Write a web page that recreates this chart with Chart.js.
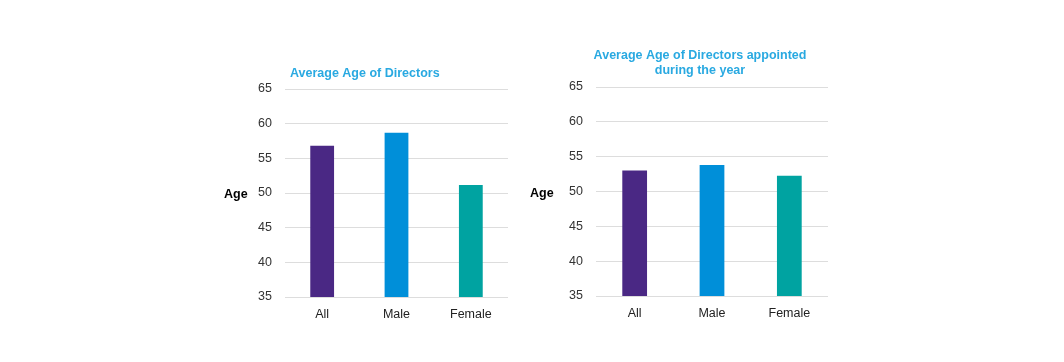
<!DOCTYPE html>
<html lang="en">
<head>
  <meta charset="UTF-8">
  <title>Average Age of Directors</title>
  <script src="https://cdn.jsdelivr.net/npm/chart.js"></script>
  <style>
    body {
      margin: 0;
      background: #ffffff;
      width: 1064px;
      height: 362px;
      position: relative;
      overflow: hidden;
      font-family: "Liberation Sans", Arial, sans-serif;
    }
    .box {
      position: absolute;
      top: 40px;
      width: 320px;
      height: 290px;
    }
  </style>
</head>
<body>
  <div class="box" style="left: 200px;"><canvas id="chartAll"></canvas></div>
  <div class="box" style="left: 515px;"><canvas id="chartAppointed"></canvas></div>

  <script>
    const categories = ["All", "Male", "Female"];
    const averageAge = [56.8, 58.7, 51.15];
    const averageAgeAppointed = [53.0, 53.8, 52.25];
    const yTicks = [35, 40, 45, 50, 55, 60, 65];
    const barColours = ["#4a2884", "#008fd9", "#00a3a1"];
    const yAxisLabel = "Age";
    const titleAll = ["Average Age of Directors"];
    const titleAppointed = ["Average Age of Directors appointed", "during the year"];

    const FONT = "'Liberation Sans', Arial, sans-serif";

    // titre + "Age" horizontal dessinés à la main
    const labelsPlugin = {
      id: "labels",
      afterDraw(chart, args, opts) {
        const c = chart.ctx;
        c.save();
        c.font = "bold 12.5px " + FONT;
        c.fillStyle = "#29a9e1";
        c.textAlign = opts.titleAlign;
        c.textBaseline = "middle";
        opts.title.forEach((line, i) => c.fillText(line, opts.titleX, opts.titleY + i * 15));
        c.fillStyle = "#000000";
        c.textAlign = "left";
        c.fillText(yAxisLabel, opts.ageX, chart.chartArea.top + (chart.chartArea.bottom - chart.chartArea.top) / 2 + 2);
        c.restore();
      }
    };

    function makeChart(id, values, layout) {
      return new Chart(document.getElementById(id), {
        type: "bar",
        data: {
          labels: categories,
          datasets: [{
            data: values,
            backgroundColor: barColours,
            categoryPercentage: 0.32,
            barPercentage: 1
          }]
        },
        options: {
          responsive: true,
          maintainAspectRatio: false,
          animation: false,
          layout: { padding: { top: layout.top, right: layout.right, bottom: 0, left: 0 } },
          plugins: {
            legend: { display: false },
            tooltip: { enabled: false },
            labels: layout.labels
          },
          scales: {
            x: {
              grid: { display: false },
              border: { display: false },
              ticks: { color: "#222222", font: { size: 12.5, family: FONT }, padding: 2 },
              afterFit: s => { s.height = layout.xHeight; }
            },
            y: {
              min: 35,
              max: 65,
              afterBuildTicks: s => { s.ticks = yTicks.map(v => ({ value: v })); },
              grid: { color: "#dddddd", drawTicks: false },
              border: { display: false },
              ticks: { color: "#333333", font: { size: 12.5, family: FONT }, padding: 13 },
              afterFit: s => { s.width = layout.yWidth; }
            }
          }
        },
        plugins: [labelsPlugin]
      });
    }

    makeChart("chartAll", averageAge, {
      top: 49, right: 12, xHeight: 33, yWidth: 85,
      labels: { title: titleAll, titleAlign: "left", titleX: 90, titleY: 34, ageX: 24 }
    });
    makeChart("chartAppointed", averageAgeAppointed, {
      top: 47, right: 7, xHeight: 34, yWidth: 81,
      labels: { title: titleAppointed, titleAlign: "center", titleX: 185, titleY: 16, ageX: 15 }
    });
  </script>
</body>
</html>
